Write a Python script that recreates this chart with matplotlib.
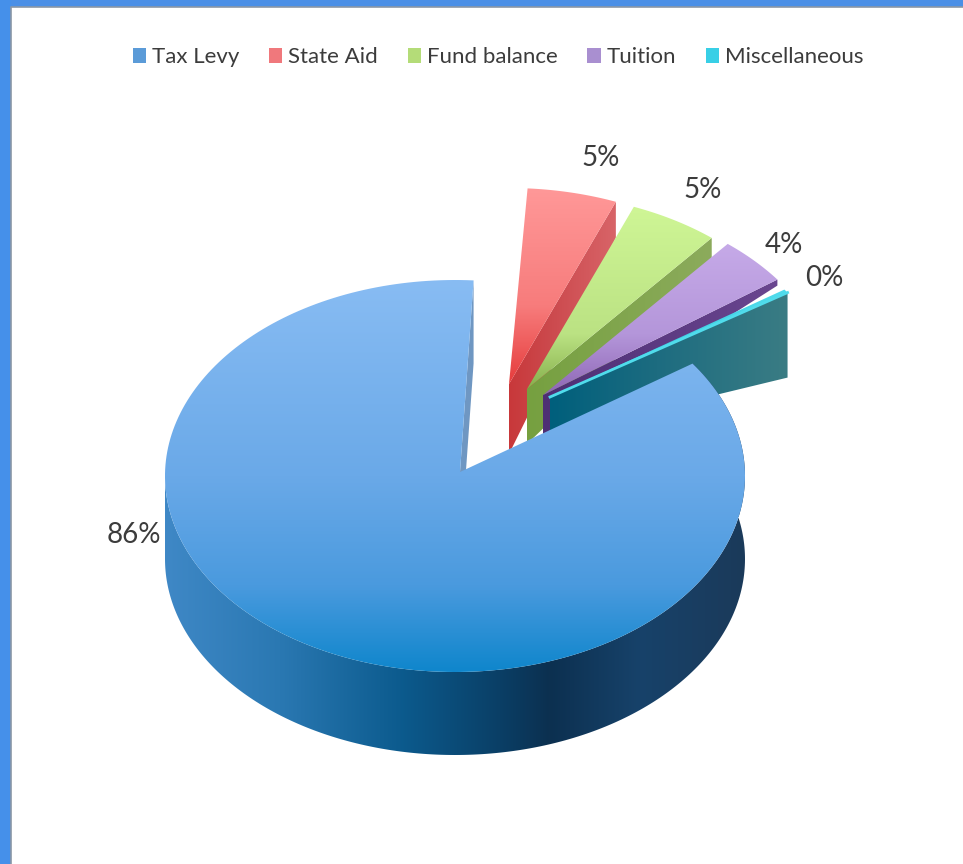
import matplotlib

matplotlib.use("Agg")
import matplotlib.pyplot as plt
import numpy as np
from matplotlib.colors import LinearSegmentedColormap
from matplotlib.patches import Patch, Polygon, Rectangle

categories = ["Tax Levy", "State Aid", "Fund balance", "Tuition", "Miscellaneous"]
shares = [86, 5, 5, 4, 0.3]
legend_colors = ["#5b9bd8", "#f0787c", "#b4dc78", "#a98fd0", "#38cfe6"]

W, H = 963, 864
CX, CY = 455, 476
RX, RY = 290, 196
DEPTH = 83
START_ANGLE = 35.0

# pixel shift of every slice from the pie centre
offsets = [(0, 0), (54, -92), (72, -87), (88, -81), (95, -71)]
# the sliver's tip sits a little higher than its shift alone gives
tip_lift = [0, 0, 0, 0, 8]
# wall height at the tip and at the outer end of each exploded slice
tip_depths = [0, 70, 55, 40, 38]
outer_depths = [0, 36, 28, 6, 85]
label_pos = [(134, 535), (601, 158), (703, 190), (784, 245), (824, 278)]
top_grads = [
    [(0.0, "#88bcf3"), (0.5, "#6aa9e8"), (0.78, "#4a9ade"), (1.0, "#0f86cc")],
    [(0.0, "#ff9898"), (0.6, "#f77c7c"), (1.0, "#e63c3c")],
    [(0.0, "#cff696"), (0.7, "#bbe283"), (1.0, "#86b04c")],
    [(0.0, "#c6aae8"), (0.6, "#b496da"), (1.0, "#8e66b4")],
    [(0.0, "#50dcec"), (1.0, "#30c0d8")],
]
wall_grads = [
    None,
    [(0.0, "#c8383a"), (0.4, "#cc4a4e"), (1.0, "#d86468")],
    [(0.0, "#76a040"), (1.0, "#8cab5c")],
    [(0.0, "#4e2f74"), (1.0, "#6a4690")],
    [(0.0, "#005f7c"), (0.45, "#1d6c80"), (1.0, "#3a7c84")],
]
rim_stops = [(165, "#3f88c6"), (280, "#2a78b2"), (400, "#0c5b8e"), (500, "#0a3f66"),
             (550, "#0c3050"), (640, "#17426a"), (745, "#1b3a5a")]

plt.rcParams["font.family"] = ["Lato", "DejaVu Sans"]
TEXT = "#3c3c3c"


def arc(a0, a1, dx=0, dy=0, n=240):
    t = np.radians(np.linspace(a0, a1, n))
    return np.column_stack([CX + dx + RX * np.cos(t), CY + dy - RY * np.sin(t)])


def grad_fill(ax, pts, stops, horizontal=False, zorder=1):
    # gradient image spanning the polygon's own bounding box, clipped to it
    pts = np.asarray(pts)
    x0, y0 = pts.min(axis=0)
    x1, y1 = pts.max(axis=0)
    cmap = LinearSegmentedColormap.from_list("g", stops)
    ramp = np.linspace(0, 1, 256)
    data = ramp[None, :] if horizontal else ramp[:, None]
    im = ax.imshow(data, cmap=cmap, vmin=0, vmax=1, aspect="auto", zorder=zorder,
                   extent=(x0, x1, y1, y0), interpolation="bilinear")
    poly = Polygon(pts, closed=True, fc="none", ec="none", transform=ax.transData)
    ax.add_patch(poly)
    im.set_clip_path(poly)


fig = plt.figure(figsize=(W / 100, H / 100), dpi=100, facecolor="white")
ax = fig.add_axes([0, 0, 1, 1])
ax.axis("off")

# slide frame behind the chart
ax.add_patch(Rectangle((0, 0), W, 7, fc="#4a8fe6", ec="none", zorder=0))
ax.add_patch(Rectangle((0, 0), 11, H, fc="#4590ea", ec="none", zorder=0))
ax.plot([11, 11, W], [H, 7, 7], color="#8a97a6", lw=1.2, zorder=0.5)

# slice angles run clockwise from the start angle
total = sum(shares)
sweeps = [s / total * 360 for s in shares]
bounds = [(START_ANGLE - sum(sweeps[:i]), START_ANGLE - sum(sweeps[:i + 1])) for i in range(len(shares))]

# exploded slices first so the big slice ends up in front of them
z = 2
for i in range(1, len(shares)):
    a0, a1 = bounds[i]
    dx, dy = offsets[i]
    tip = np.array([CX + dx, CY + dy - tip_lift[i]])
    rim = arc(a0, a1, dx, dy)
    end = rim[-1]
    wall = [tip, end, end + [0, outer_depths[i]], tip + [0, tip_depths[i]]]
    grad_fill(ax, wall, wall_grads[i], horizontal=True, zorder=z)
    grad_fill(ax, np.vstack([tip, rim]), top_grads[i], zorder=z + 1)
    if i == len(shares) - 1:
        ax.plot([tip[0], end[0]], [tip[1], end[1]], color=top_grads[i][0][1], lw=2, zorder=z + 1)
    z += 2

# big slice: notch wall, outer rim, then the top surface
a0, a1 = bounds[0]
tip = np.array([CX + 5, CY - 4])
top_rim = arc(a0, a1)
notch = top_rim[-1]
ax.add_patch(Polygon([tip, notch, notch + [0, DEPTH], tip + [0, DEPTH]], fc="#6f97c2", ec="none", zorder=z))
z += 1
front = arc(a0, -180)
rim_cmap = [((x - rim_stops[0][0]) / (rim_stops[-1][0] - rim_stops[0][0]), c) for x, c in rim_stops]
grad_fill(ax, np.vstack([front, (front + [0, DEPTH])[::-1]]), rim_cmap, horizontal=True, zorder=z)
z += 1
grad_fill(ax, np.vstack([tip, top_rim]), top_grads[0], zorder=z)
z += 1

for (x, y), s in zip(label_pos, shares):
    ax.text(x, y, f"{round(s)}%", ha="center", va="center", fontsize=20, color=TEXT, zorder=z)

handles = [Patch(fc=c, ec="none", label=n) for c, n in zip(legend_colors, categories)]
leg = ax.legend(handles=handles, ncol=5, loc="center", bbox_to_anchor=(498, 57),
                bbox_transform=ax.transData, frameon=False, fontsize=16, labelcolor=TEXT,
                handlelength=0.6, handleheight=0.65, handletextpad=0.25, columnspacing=1.35,
                borderpad=0, borderaxespad=0)
leg.set_zorder(z)

ax.set_xlim(0, W)
ax.set_ylim(H, 0)
fig.savefig("out.png", dpi=100, facecolor="white")
